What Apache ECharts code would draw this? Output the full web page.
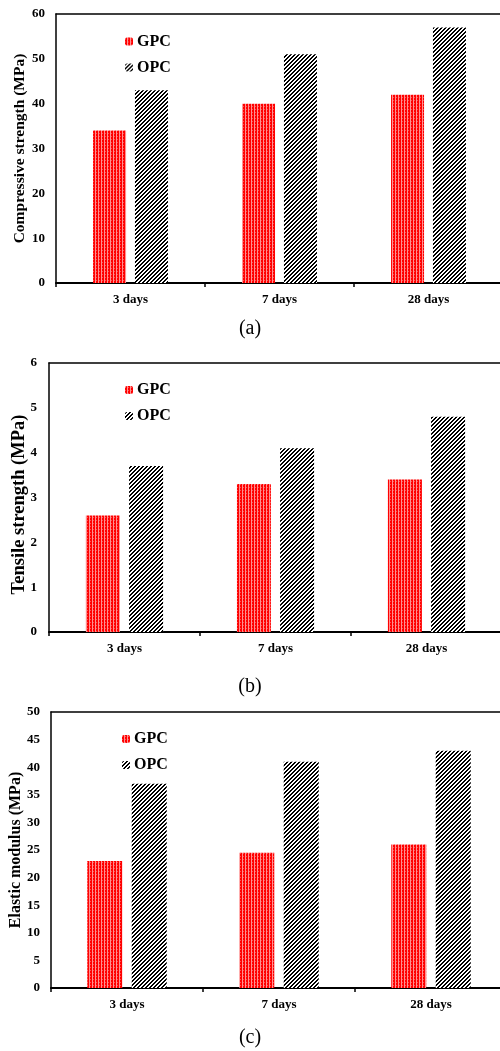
<!DOCTYPE html>
<html><head><meta charset="utf-8">
<script src="https://cdn.jsdelivr.net/npm/echarts@6/dist/echarts.min.js"></script>
<style>html,body{margin:0;padding:0;background:#fff}#c{width:500px;height:1051px}</style>
</head><body><div id="c"></div>
<script>
const categories = ['3 days', '7 days', '28 days'];
const seriesNames = ['GPC', 'OPC'];
const compGPC = [34, 40, 42];
const compOPC = [43, 51, 57];
const tensGPC = [2.6, 3.3, 3.4];
const tensOPC = [3.7, 4.1, 4.8];
const elasGPC = [23, 24.5, 26];
const elasOPC = [37, 41, 43];
const yTitles = ['Compressive strength (MPa)', 'Tensile strength (MPa)', 'Elastic modulus (MPa)'];
const captions = ['(a)', '(b)', '(c)'];

function gpcPattern() {
  const c = document.createElement('canvas'); c.width = 3; c.height = 3;
  const g = c.getContext('2d');
  g.fillStyle = '#ff0000'; g.fillRect(0, 0, 3, 3);
  g.fillStyle = '#ff9090'; g.fillRect(2, 0, 1, 3);
  g.fillStyle = '#ff5050'; g.fillRect(0, 1, 1, 1);
  return { image: c, repeat: 'repeat' };
}
function opcPattern() {
  const c = document.createElement('canvas'); c.width = 4; c.height = 4;
  const g = c.getContext('2d');
  g.fillStyle = '#ffffff'; g.fillRect(0, 0, 4, 4);
  g.fillStyle = '#000000';
  for (let x = 0; x < 4; x++) for (let y = 0; y < 4; y++) {
    if ((x + y) % 4 === 0 || (x + y) % 4 === 1) g.fillRect(x, y, 1, 1);
  }
  return { image: c, repeat: 'repeat' };
}
const GP = gpcPattern(), OP = opcPattern();
const FONT = 'Liberation Serif';

const grids = [
  { left: 56, top: 14, height: 269, right: -3, containLabel: false, outerBoundsMode: 'none' },
  { left: 49, top: 363, height: 269, right: -2, containLabel: false, outerBoundsMode: 'none' },
  { left: 51, top: 712, height: 276, right: -7, containLabel: false, outerBoundsMode: 'none' }
];
const yCfg = [
  { max: 60, interval: 10, gap: 28, size: 15.5, pad: [0, 0, 0, 0], margin: 11 },
  { max: 6, interval: 1, gap: 20, size: 18.5, pad: [0, 14, 0, 0], margin: 12 },
  { max: 50, interval: 5, gap: 27, size: 16, pad: [0, 0, 0, 0], margin: 11 }
];
const dataSets = [[compGPC, compOPC], [tensGPC, tensOPC], [elasGPC, elasOPC]];
const barW = [33, 34, 35];
const legendPos = [
  { left: 125, top: 33.5 },
  { left: 125, top: 382 },
  { left: 122, top: 731 }
];

const xAxis = [], yAxis = [], series = [], legend = [], title = [];
grids.forEach((gr, i) => {
  xAxis.push({
    type: 'category', gridIndex: i, data: categories,
    axisLine: { lineStyle: { color: '#000', width: 2 } },
    axisTick: { show: true, length: 4, lineStyle: { color: '#000', width: 1.5 } },
    axisLabel: { color: '#000', fontFamily: FONT, fontWeight: 'bold', fontSize: 13, margin: 10 }
  });
  xAxis.push({
    type: 'category', gridIndex: i, position: 'top', data: categories,
    axisLine: { lineStyle: { color: '#000', width: 1.5 } },
    axisTick: { show: false }, axisLabel: { show: false }
  });
  yAxis.push({
    type: 'value', gridIndex: i, min: 0, max: yCfg[i].max, interval: yCfg[i].interval,
    name: yTitles[i], nameLocation: 'middle', nameGap: yCfg[i].gap, nameMoveOverlap: false,
    nameTextStyle: { color: '#000', fontFamily: FONT, fontWeight: 'bold', fontSize: yCfg[i].size, padding: yCfg[i].pad },
    axisLine: { show: true, lineStyle: { color: '#000', width: 1.5 } },
    axisTick: { show: false },
    splitLine: { show: false },
    axisLabel: { color: '#000', fontFamily: FONT, fontWeight: 'bold', fontSize: 13, margin: yCfg[i].margin }
  });
  series.push({
    type: 'bar', name: seriesNames[0], xAxisIndex: i * 2, yAxisIndex: i,
    data: dataSets[i][0], barWidth: barW[i], barGap: '27%',
    itemStyle: { color: GP }
  });
  series.push({
    type: 'bar', name: seriesNames[1], xAxisIndex: i * 2, yAxisIndex: i,
    data: dataSets[i][1], barWidth: barW[i], barGap: '27%',
    itemStyle: { color: OP }
  });
  legend.push({
    data: seriesNames, orient: 'vertical', left: legendPos[i].left, top: legendPos[i].top,
    itemWidth: 8, itemHeight: 8, itemGap: 10, padding: 0,
    selectedMode: false,
    textStyle: { color: '#000', fontFamily: FONT, fontWeight: 'bold', fontSize: 16, lineHeight: 16, padding: [0, 0, 0, -1] }
  });
  title.push({
    text: captions[i], left: 'center',
    top: [314, 672, 1023][i],
    textStyle: { color: '#000', fontFamily: FONT, fontWeight: 'normal', fontSize: 20 }
  });
});

const chart = echarts.init(document.getElementById('c'), null, { renderer: 'canvas' });
chart.setOption({
  animation: false,
  grid: grids, xAxis, yAxis, series, legend, title
});
</script></body></html>
